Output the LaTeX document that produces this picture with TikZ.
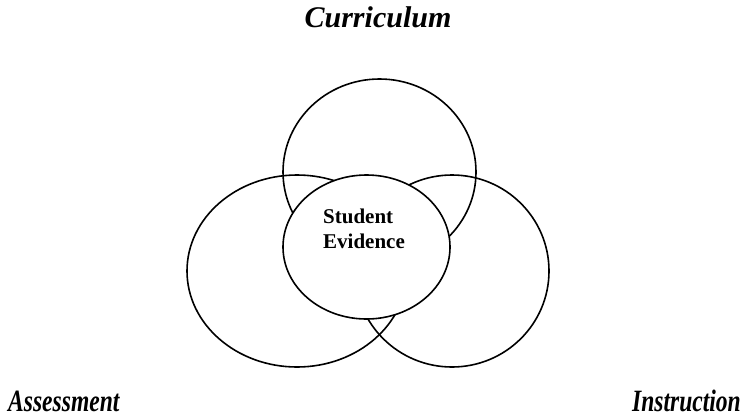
\documentclass[tikz,border=0pt]{standalone}
\usepackage{fontspec}
\setmainfont{Liberation Serif}
\usetikzlibrary{shapes.geometric}
\begin{document}
\begin{tikzpicture}[x=1pt,y=-1pt,
  ring/.style={draw=black, line width=1.6pt, ellipse, inner sep=0pt},
  biglabel/.style={inner sep=0pt, font=\fontsize{30}{34}\selectfont\bfseries\itshape},
  sidelabel/.style={inner sep=0pt, font=\fontsize{31}{34}\selectfont\bfseries\itshape},
  midlabel/.style={inner sep=0pt, align=left, font=\fontsize{21}{25}\selectfont\bfseries}]
\useasboundingbox (0,0) rectangle (743,418);
\node[ring, minimum width=193pt, minimum height=186pt] (curr) at (379.5,172) {};
\node[ring, minimum width=220pt, minimum height=192pt] (assess) at (297,271) {};
\node[ring, minimum width=194pt, minimum height=192pt] (instr) at (452,271) {};
\node[ring, fill=white, minimum width=167pt, minimum height=144pt] (stud) at (366.5,247) {};
\node[midlabel, anchor=base west] (studtxt) at (323,248) {Student\\Evidence};
\node[biglabel, anchor=base] (currtxt) at (378,27) {Curriculum};
\node[sidelabel, anchor=base west] (assesstxt) at (8,411) {\scalebox{0.76}[1]{Assessment}};
\node[sidelabel, anchor=base east] (instrtxt) at (741,411) {\scalebox{0.76}[1]{Instruction}};
\end{tikzpicture}
\end{document}
